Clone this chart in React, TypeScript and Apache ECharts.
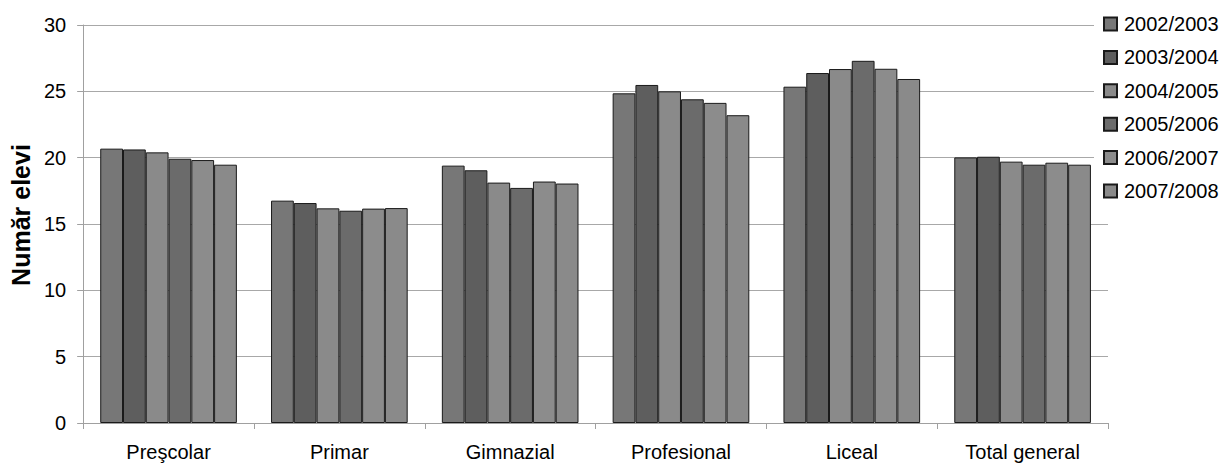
import React, { useEffect, useRef } from "react";
import * as echarts from "echarts";

const categories = ["Preşcolar", "Primar", "Gimnazial", "Profesional", "Liceal", "Total general"];
const seriesNames = ["2002/2003", "2003/2004", "2004/2005", "2005/2006", "2006/2007", "2007/2008"];
const s2002 = [20.68, 16.76, 19.4, 24.85, 25.35, 20.02];
const s2003 = [20.62, 16.58, 19.05, 25.48, 26.38, 20.07];
const s2004 = [20.4, 16.18, 18.12, 25.0, 26.68, 19.7];
const s2005 = [19.92, 16.0, 17.72, 24.4, 27.3, 19.47];
const s2006 = [19.82, 16.16, 18.2, 24.13, 26.7, 19.62];
const s2007 = [19.47, 16.2, 18.05, 23.2, 25.93, 19.47];
const seriesValues = [s2002, s2003, s2004, s2005, s2006, s2007];
const colors = ["#777777", "#5e5e5e", "#8a8a8a", "#6b6b6b", "#8c8c8c", "#8a8a8a"];
const yTicks = { min: 0, max: 30, interval: 5 };

const FONT = "'Liberation Sans', Arial, sans-serif";

export default function App() {
  const ref = useRef<HTMLDivElement>(null);
  useEffect(() => {
    if (!ref.current) return;
    const chart = echarts.init(ref.current, null, { renderer: "svg" });
    chart.setOption({
      animation: false,
      backgroundColor: "#ffffff",
      textStyle: { fontFamily: FONT, color: "#000" },
      grid: { left: 81, right: 118, top: 25, bottom: 46, containLabel: false },
      legend: {
        orient: "vertical",
        left: 1094,
        top: 14,
        padding: [0, 2, 0, 9],
        backgroundColor: "#ffffff",
        icon: "rect",
        itemWidth: 13,
        itemHeight: 13,
        itemGap: 13.4,
        textStyle: { fontFamily: FONT, fontSize: 20, lineHeight: 20, color: "#000", padding: [0, 0, 0, 2] },
        data: seriesNames,
      },
      xAxis: {
        type: "category",
        data: categories,
        axisLine: { lineStyle: { color: "#a0a0a0", width: 1 } },
        axisTick: { show: true, length: 6, alignWithLabel: false, lineStyle: { color: "#a0a0a0" } },
        axisLabel: { fontFamily: FONT, fontSize: 20, color: "#000", margin: 19 },
        splitLine: { show: false },
      },
      yAxis: {
        type: "value",
        min: yTicks.min,
        max: yTicks.max,
        interval: yTicks.interval,
        name: "Număr elevi",
        nameLocation: "middle",
        nameGap: 48,
        nameTextStyle: {
          fontFamily: FONT,
          fontSize: 25,
          fontWeight: "bold",
          color: "#000",
          padding: [0, 0, 0, 18],
        },
        axisLine: { show: true, lineStyle: { color: "#a0a0a0", width: 1 } },
        axisTick: { show: true, length: 6, lineStyle: { color: "#a0a0a0" } },
        axisLabel: { fontFamily: FONT, fontSize: 20, color: "#000", margin: 17 },
        splitLine: { show: true, lineStyle: { color: "#a8a8a8", width: 1 } },
      },
      series: seriesNames.map((name, i) => ({
        name,
        type: "bar",
        data: seriesValues[i],
        barGap: "0%",
        barCategoryGap: "20%",
        itemStyle: {
          color: colors[i],
          borderColor: "#1a1a1a",
          borderWidth: 1,
        },
      })),
    });
    return () => chart.dispose();
  }, []);
  return (
    <div
      ref={ref}
      style={{ position: "fixed", left: 0, top: 0, width: 1226, height: 469 }}
    />
  );
}
